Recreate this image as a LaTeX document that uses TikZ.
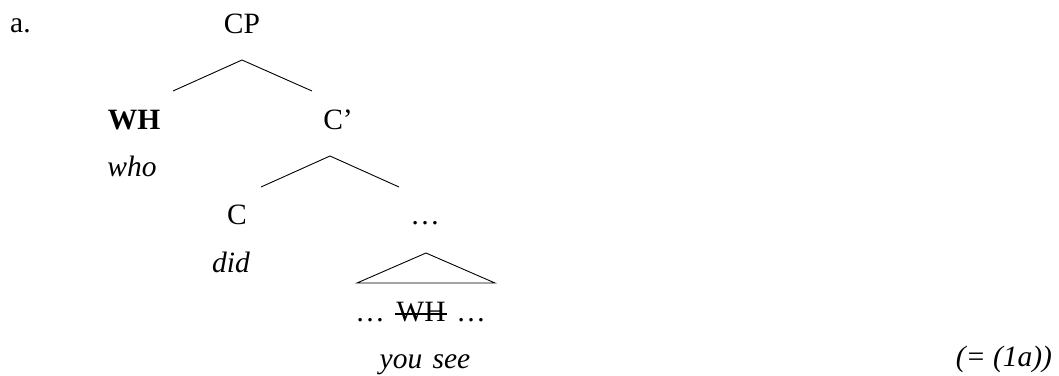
\documentclass[tikz,border=0pt]{standalone}
\usepackage{fontspec}
\setmainfont{Liberation Serif}
\begin{document}
\begin{tikzpicture}[x=1pt,y=-1pt,
  lbl/.style={anchor=base,inner sep=0pt,font=\fontsize{29.5}{34}\selectfont},
  branch/.style={line width=0.9pt},
  strike/.style={line width=1.3pt}]
\useasboundingbox (0,0) rectangle (1059,375);
% labels
\node[lbl,anchor=base west] (ex) at (10,32) {a.};
\node[lbl] (cp) at (242,33) {CP};
\node[lbl,font=\fontsize{29.5}{34}\selectfont\bfseries] (wh) at (134,129) {WH};
\node[lbl] (cbar) at (338,129) {C’};
\node[lbl,font=\fontsize{29.5}{34}\selectfont\itshape] (who) at (132,176) {who};
\node[lbl] (c) at (237,224) {C};
\node[lbl] (dots) at (425,224) {…};
\node[lbl,font=\fontsize{29.5}{34}\selectfont\itshape] (did) at (231,272) {did};
\node[lbl] (d1) at (370,321) {…};
\node[lbl] (whs) at (421,321) {WH};
\node[lbl] (d2) at (471,321) {…};
\node[lbl,font=\fontsize{29.5}{34}\selectfont\itshape] (yousee) at (425,368) {you\hspace{3pt} see};
\node[lbl,font=\fontsize{29.5}{34}\selectfont\itshape] (ref) at (1004,366) {(= (1a))};
% branch points
\coordinate (cptop) at (242,60);
\coordinate (cpl) at (173,91);
\coordinate (cpr) at (312,91);
\coordinate (cbtop) at (330,156);
\coordinate (cbl) at (261,187);
\coordinate (cbr) at (399,187);
\coordinate (tritop) at (426,253);
\coordinate (tril) at (357,283);
\coordinate (trir) at (495,283);
\draw[branch] (cpl) -- (cptop) -- (cpr);
\draw[branch] (cbl) -- (cbtop) -- (cbr);
\draw[branch] (tril) -- (tritop) -- (trir) -- cycle;
% strike-through
\draw[strike] ([xshift=-1pt,yshift=7pt]whs.base west) -- ([xshift=1pt,yshift=7pt]whs.base east);
\end{tikzpicture}
\end{document}
